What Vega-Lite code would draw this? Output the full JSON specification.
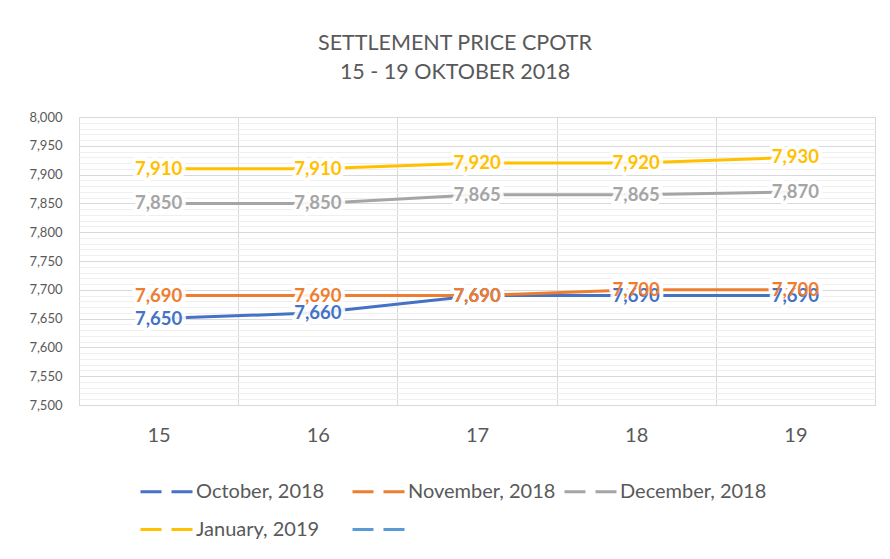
{
  "$schema": "https://vega.github.io/schema/vega-lite/v6.json",
  "autosize": {"type": "none"},
  "padding": {"left": 79, "top": 117, "right": 15, "bottom": 154},
  "width": 796,
  "height": 288,
  "background": "white",
  "title": {
    "text": ["SETTLEMENT PRICE CPOTR", "15 - 19 OKTOBER 2018"],
    "font": "Lato",
    "fontSize": 21.5,
    "fontWeight": "normal",
    "color": "#595959",
    "lineHeight": 29,
    "anchor": "middle",
    "dx": -22,
    "offset": 28
  },
  "config": {
    "view": {"stroke": "#d9d9d9", "strokeWidth": 1},
    "font": "Lato"
  },
  "data": {
    "values": [
      {"day": "15", "series": "October, 2018", "price": 7650},
      {"day": "16", "series": "October, 2018", "price": 7660},
      {"day": "17", "series": "October, 2018", "price": 7690},
      {"day": "18", "series": "October, 2018", "price": 7690},
      {"day": "19", "series": "October, 2018", "price": 7690},
      {"day": "15", "series": "November, 2018", "price": 7690},
      {"day": "16", "series": "November, 2018", "price": 7690},
      {"day": "17", "series": "November, 2018", "price": 7690},
      {"day": "18", "series": "November, 2018", "price": 7700},
      {"day": "19", "series": "November, 2018", "price": 7700},
      {"day": "15", "series": "December, 2018", "price": 7850},
      {"day": "16", "series": "December, 2018", "price": 7850},
      {"day": "17", "series": "December, 2018", "price": 7865},
      {"day": "18", "series": "December, 2018", "price": 7865},
      {"day": "19", "series": "December, 2018", "price": 7870},
      {"day": "15", "series": "January, 2019", "price": 7910},
      {"day": "16", "series": "January, 2019", "price": 7910},
      {"day": "17", "series": "January, 2019", "price": 7920},
      {"day": "18", "series": "January, 2019", "price": 7920},
      {"day": "19", "series": "January, 2019", "price": 7930}
    ]
  },
  "encoding": {
    "x": {
      "field": "day",
      "type": "ordinal",
      "scale": {"type": "band", "paddingInner": 0, "paddingOuter": 0},
      "axis": {
        "title": null,
        "tickBand": "extent",
        "grid": true,
        "gridColor": "#d9d9d9",
        "ticks": false,
        "tickSize": 0,
        "domain": false,
        "labelAngle": 0,
        "labelFont": "Lato",
        "labelFontSize": 20,
        "labelColor": "#595959",
        "labelPadding": 20
      }
    },
    "y": {
      "field": "price",
      "type": "quantitative",
      "scale": {"domain": [7500, 8000], "zero": false, "nice": false},
      "axis": {
        "title": null,
        "values": [7500,7510,7520,7530,7540,7550,7560,7570,7580,7590,7600,7610,7620,7630,7640,7650,7660,7670,7680,7690,7700,7710,7720,7730,7740,7750,7760,7770,7780,7790,7800,7810,7820,7830,7840,7850,7860,7870,7880,7890,7900,7910,7920,7930,7940,7950,7960,7970,7980,7990,8000],
        "labelExpr": "datum.value % 50 === 0 ? format(datum.value, ',') : ''",
        "gridColor": {"condition": {"test": "datum.value % 50 === 0", "value": "#d9d9d9"}, "value": "#efefef"},
        "ticks": false,
        "tickSize": 0,
        "domain": false,
        "labelFont": "Lato",
        "labelFontSize": 13,
        "labelColor": "#595959",
        "labelPadding": 17,
        "labelOverlap": false
      }
    }
  },
  "layer": [
    {
      "mark": {"type": "line", "strokeWidth": 3},
      "encoding": {
        "color": {
          "field": "series",
          "type": "nominal",
          "scale": {
            "domain": ["October, 2018", "November, 2018", "December, 2018", "January, 2019", " "],
            "range": ["#4472C4", "#ED7D31", "#A5A5A5", "#FFC000", "#5B9BD5"]
          },
          "legend": {
            "title": null,
            "orient": "none",
            "legendX": 60,
            "legendY": 347,
            "direction": "horizontal",
            "columns": 3,
            "gridAlign": "all",
            "columnPadding": 2,
            "rowPadding": -11,
            "symbolType": "stroke",
            "symbolSize": 2704,
            "symbolStrokeWidth": 3,
            "symbolDash": [21, 10],
            "labelFont": "Lato",
            "labelFontSize": 20,
            "labelColor": "#595959",
            "labelOffset": 2,
            "labelLimit": 300
          }
        }
      }
    },
    {
      "mark": {
        "type": "text",
        "font": "Lato",
        "fontSize": 18.5,
        "fontWeight": "bold",
        "fill": "white",
        "stroke": "white",
        "strokeWidth": 8,
        "strokeJoin": "round",
        "opacity": 0.9,
        "align": "center",
        "baseline": "middle"
      },
      "encoding": {
        "text": {"field": "price", "type": "quantitative", "format": ","}
      }
    },
    {
      "mark": {
        "type": "text",
        "font": "Lato",
        "fontSize": 18.5,
        "fontWeight": "bold",
        "align": "center",
        "baseline": "middle"
      },
      "encoding": {
        "text": {"field": "price", "type": "quantitative", "format": ","},
        "color": {
          "field": "series",
          "type": "nominal",
          "legend": {
            "title": null,
            "orient": "none",
            "legendX": 60,
            "legendY": 347,
            "direction": "horizontal",
            "columns": 3,
            "gridAlign": "all",
            "columnPadding": 2,
            "rowPadding": -11,
            "symbolType": "stroke",
            "symbolSize": 2704,
            "symbolStrokeWidth": 3,
            "symbolDash": [21, 10],
            "labelFont": "Lato",
            "labelFontSize": 20,
            "labelColor": "#595959",
            "labelOffset": 2,
            "labelLimit": 300
          }
        }
      }
    }
  ]
}
